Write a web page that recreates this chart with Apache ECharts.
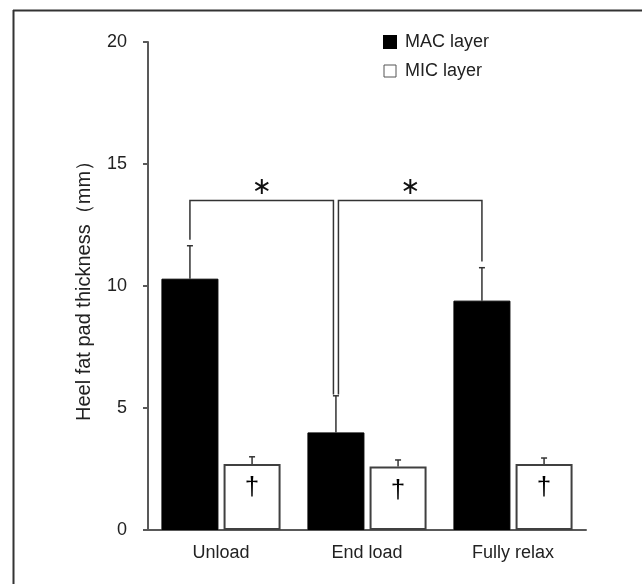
<!DOCTYPE html>
<html>
<head>
<meta charset="utf-8">
<script src="https://cdn.jsdelivr.net/npm/echarts@6/dist/echarts.min.js"></script>
<style>
html, body { margin: 0; padding: 0; background: #fff; }
#chart { width: 642px; height: 584px; }
</style>
</head>
<body>
<div id="chart"></div>
<script>
// data
const categories = ["Unload", "End load", "Fully relax"];
const macMean = [10.3, 4.0, 9.4];
const macErr = [1.35, 1.5, 1.35];
const micMean = [2.7, 2.6, 2.7];
const micErr = [0.3, 0.27, 0.25];
const micMark = ["†", "†", "†"];

// significance brackets between MAC bars
const bracketFrom = [0, 1];
const bracketTo = [1, 2];
const bracketLevel = [13.5, 13.5];
const bracketLeftFoot = [11.9, 5.55];
const bracketRightFoot = [5.55, 11.0];
const bracketMark = ["∗", "∗"];

const FONT = "Liberation Sans, Arial, sans-serif";
const AXIS = "#595959";
const BAR_W = 57;
const BAR_GAP = 0.09;
const OFF = (BAR_W * (1 + BAR_GAP)) / 2; // centre of each bar from category centre

function errorSeries(name, means, errs, sign) {
  return {
    type: "custom",
    name: name + " err",
    z: 5,
    silent: true,
    data: means.map((m, i) => [i, m, errs[i]]),
    encode: { x: 0, y: 1 },
    renderItem: function (params, api) {
      const i = api.value(0);
      const base = api.coord([i, api.value(1)]);
      const top = api.coord([i, api.value(1) + api.value(2)]);
      const x = base[0] + sign * OFF;
      const st = { stroke: "#333", lineWidth: 1.5 };
      return {
        type: "group",
        children: [
          { type: "line", shape: { x1: x, y1: base[1], x2: x, y2: top[1] }, style: st },
          { type: "line", shape: { x1: x - 3, y1: top[1], x2: x + 3, y2: top[1] }, style: st }
        ]
      };
    }
  };
}

const bracketData = bracketFrom.map((f, k) => [f, bracketTo[k], bracketLevel[k], bracketLeftFoot[k], bracketRightFoot[k]]);

const chart = echarts.init(document.getElementById("chart"));
chart.setOption({
  animation: false,
  textStyle: { fontFamily: FONT },
  grid: { left: 148, right: 56, top: 42, bottom: 54 },
  legend: {
    orient: "vertical",
    left: 383,
    top: 33,
    padding: 0,
    itemWidth: 12,
    itemHeight: 12,
    itemGap: 11,
    icon: "rect",
    selectedMode: false,
    textStyle: { fontSize: 18, color: "#222", fontFamily: FONT, padding: [0, 0, 0, 4] },
    data: [
      { name: "MAC layer" },
      { name: "MIC layer", itemStyle: { borderWidth: 1, borderColor: "#555" } }
    ]
  },
  xAxis: {
    type: "category",
    data: categories,
    axisLine: { lineStyle: { color: AXIS, width: 2 } },
    axisTick: { show: false },
    axisLabel: { fontSize: 18, color: "#222", margin: 14 }
  },
  yAxis: {
    type: "value",
    min: 0,
    max: 20,
    interval: 5,
    name: "Heel fat pad thickness（mm）",
    nameLocation: "middle",
    nameGap: 54,
    nameTextStyle: { fontSize: 20, color: "#222", fontFamily: FONT },
    axisLine: { show: true, lineStyle: { color: AXIS, width: 2 } },
    axisTick: { show: true, length: 5, lineStyle: { color: AXIS, width: 2 } },
    axisLabel: { fontSize: 18, color: "#222", margin: 21 },
    splitLine: { show: false }
  },
  graphic: [
    { type: "line", shape: { x1: 13.5, y1: 10, x2: 13.5, y2: 584 }, style: { stroke: "#333", lineWidth: 2 } },
    { type: "line", shape: { x1: 13, y1: 10.5, x2: 642, y2: 10.5 }, style: { stroke: "#333", lineWidth: 2 } }
  ],
  series: [
    {
      type: "bar",
      name: "MAC layer",
      barWidth: BAR_W,
      barGap: BAR_GAP * 100 + "%",
      itemStyle: { color: "#000", borderColor: "#000", borderWidth: 1 },
      data: macMean
    },
    {
      type: "bar",
      name: "MIC layer",
      barWidth: BAR_W,
      barGap: BAR_GAP * 100 + "%",
      itemStyle: { color: "#fff", borderColor: "#404040", borderWidth: 2 },
      label: {
        show: true,
        position: ["50%", 24],
        align: "center",
        verticalAlign: "middle",
        fontSize: 26,
        color: "#000",
        fontFamily: FONT,
        formatter: (p) => micMark[p.dataIndex]
      },
      data: micMean
    },
    errorSeries("MAC layer", macMean, macErr, -1),
    errorSeries("MIC layer", micMean, micErr, 1),
    {
      type: "custom",
      name: "brackets",
      z: 6,
      silent: true,
      data: bracketData,
      encode: { x: 0, y: 2 },
      renderItem: function (params, api) {
        const f = api.value(0), t = api.value(1);
        const yl = api.coord([f, api.value(2)])[1];
        const yL = api.coord([f, api.value(3)])[1];
        const yR = api.coord([t, api.value(4)])[1];
        // legs that share a bar are pushed apart slightly
        const nudgeL = bracketTo.indexOf(f) >= 0 ? 2.5 : 0;
        const nudgeR = bracketFrom.indexOf(t) >= 0 ? -2.5 : 0;
        const x1 = api.coord([f, 0])[0] - OFF + nudgeL;
        const x2 = api.coord([t, 0])[0] - OFF + nudgeR;
        return {
          type: "group",
          children: [
            {
              type: "polyline",
              shape: { points: [[x1, yL], [x1, yl], [x2, yl], [x2, yR]] },
              style: { stroke: "#333", lineWidth: 1.5, fill: null }
            },
            {
              type: "text",
              style: {
                x: (x1 + x2) / 2,
                y: yl - 13,
                text: bracketMark[params.dataIndex],
                fontSize: 24,
                fontFamily: "DejaVu Sans",
                fill: "#111",
                align: "center",
                verticalAlign: "middle"
              }
            }
          ]
        };
      }
    }
  ]
});
</script>
</body>
</html>
